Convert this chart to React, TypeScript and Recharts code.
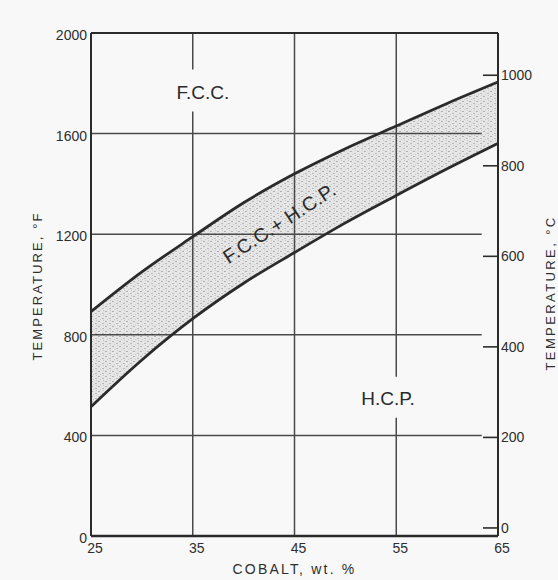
import {
  ComposedChart,
  Area,
  Line,
  XAxis,
  YAxis,
  ReferenceLine,
  ReferenceDot,
} from "recharts";

// cobalt content, wt. %
const COBALT = [25, 30, 35, 40, 45, 50, 55, 60, 65];
// upper boundary of the two-phase field (°F)
const FCC_BOUND = [892, 1050, 1190, 1325, 1440, 1540, 1630, 1720, 1805];
// lower boundary of the two-phase field (°F)
const HCP_BOUND = [514, 700, 864, 1005, 1127, 1245, 1354, 1460, 1561];

const CO_TICKS = [25, 35, 45, 55, 65];
const F_TICKS = [0, 400, 800, 1200, 1600, 2000];
const C_TICKS = [0, 200, 400, 600, 800, 1000];

const GRID_F = [400, 800, 1200, 1600];
const GRID_F_END = 63.4;
const GRID_CO: { co: number; gap?: [number, number] }[] = [
  { co: 35, gap: [1688, 1855] },
  { co: 45 },
  { co: 55, gap: [470, 633] },
];

const toC = (f: number) => ((f - 32) * 5) / 9;

const rows = COBALT.map((co, i) => ({
  co,
  lo: HCP_BOUND[i],
  hi: FCC_BOUND[i],
  loC: toC(HCP_BOUND[i]),
}));

const INK = "#2b2b2b";
const GRID = "#4a4a4a";
const FONT = "'Liberation Sans', Arial, sans-serif";

const CelsiusTick = (props: any) => {
  const { x, y, payload } = props;
  return (
    <g>
      <line x1={x - 18} x2={x - 3} y1={y} y2={y} stroke={INK} strokeWidth={1.6} />
      <text x={x} y={y} fill="#2e2e2e" fontSize={14} fontFamily={FONT} dominantBaseline="central">
        {payload.value}
      </text>
    </g>
  );
};

const FahrenheitTick = (props: any) => {
  const { x, y, payload } = props;
  return (
    <text
      x={x}
      y={y + 2}
      fill="#2e2e2e"
      fontSize={14}
      fontFamily={FONT}
      textAnchor="end"
      dominantBaseline="central"
    >
      {payload.value}
    </text>
  );
};

const CobaltTick = (props: any) => {
  const { x, y, payload } = props;
  return (
    <text x={x + 4} y={y} dy="0.75em" fill="#2e2e2e" fontSize={14} fontFamily={FONT} textAnchor="middle">
      {payload.value}
    </text>
  );
};

const phaseLabel = (text: string, angle = 0, size = 19, spacing = 0) => (p: any) =>
  (
    <text
      x={p.cx}
      y={p.cy}
      transform={angle ? `rotate(${angle} ${p.cx} ${p.cy})` : undefined}
      textAnchor="middle"
      dominantBaseline="central"
      fontSize={size}
      fontFamily={FONT}
      letterSpacing={spacing}
      fill="#2a2a2a"
    >
      {text}
    </text>
  );

export default function App() {
  return (
    <div style={{ position: "absolute", left: 0, top: 0, width: 558, height: 580, background: "#f8f8f8" }}>
      <ComposedChart
        width={558}
        height={580}
        data={rows}
        margin={{ top: 33, right: 0, bottom: 0, left: 0 }}
      >
        <defs>
          <pattern id="stipple" width="7" height="5" patternUnits="userSpaceOnUse">
            <rect width="7" height="5" fill="#e6e6e6" />
            <rect x="0" y="1" width="2" height="1" fill="#b0b0b0" />
            <rect x="4" y="3" width="2" height="1" fill="#bababa" />
            <rect x="5" y="0" width="1" height="1" fill="#c6c6c6" />
            <rect x="2" y="4" width="1" height="1" fill="#cacaca" />
          </pattern>
        </defs>
        <XAxis
          dataKey="co"
          type="number"
          domain={[25, 65]}
          ticks={CO_TICKS}
          height={44}
          tickLine={false}
          tickSize={0}
          tickMargin={6}
          axisLine={{ stroke: INK, strokeWidth: 2.5 }}
          tick={<CobaltTick />}
          label={{
            value: "COBALT, wt. %",
            position: "insideBottom",
            offset: 6,
            fill: "#2e2e2e",
            fontSize: 14,
            fontFamily: FONT,
            letterSpacing: 2.2,
          }}
        />
        <YAxis
          yAxisId="f"
          type="number"
          domain={[0, 2000]}
          ticks={F_TICKS}
          width={91}
          tickLine={false}
          tickSize={0}
          tickMargin={4}
          axisLine={{ stroke: INK, strokeWidth: 2 }}
          tick={<FahrenheitTick />}
          label={{
            content: () => (
              <text
                transform="translate(37 286) rotate(-90)"
                textAnchor="middle"
                dominantBaseline="central"
                fontSize={13}
                fontFamily={FONT}
                letterSpacing={2.1}
                fill="#2e2e2e"
              >
                TEMPERATURE, °F
              </text>
            ),
          }}
        />
        <YAxis
          yAxisId="c"
          orientation="right"
          type="number"
          domain={[toC(0), toC(2000)]}
          allowDataOverflow
          ticks={C_TICKS}
          width={60}
          tickLine={false}
          tickSize={0}
          tickMargin={3}
          axisLine={{ stroke: INK, strokeWidth: 2 }}
          tick={<CelsiusTick />}
          label={{
            content: () => (
              <text
                transform="translate(550 293) rotate(-90)"
                textAnchor="middle"
                dominantBaseline="central"
                fontSize={13}
                fontFamily={FONT}
                letterSpacing={2.4}
                fill="#2e2e2e"
              >
                TEMPERATURE, °C
              </text>
            ),
          }}
        />

        {GRID_F.map((f) => (
          <ReferenceLine
            key={`h${f}`}
            yAxisId="f"
            segment={[
              { x: 25, y: f },
              { x: GRID_F_END, y: f },
            ]}
            stroke={GRID}
            strokeWidth={1.5}
          />
        ))}
        {GRID_CO.flatMap(({ co, gap }) =>
          (gap ? [[0, gap[0]], [gap[1], 2000]] : [[0, 2000]]).map(([a, b]) => (
            <ReferenceLine
              key={`v${co}-${a}`}
              yAxisId="f"
              segment={[
                { x: co, y: a },
                { x: co, y: b },
              ]}
              stroke={GRID}
              strokeWidth={1.5}
            />
          ))
        )}
        <ReferenceLine yAxisId="f" y={2000} stroke={INK} strokeWidth={1.8} />

        <Area
          yAxisId="f"
          type="monotone"
          dataKey={(d: any) => [d.lo, d.hi]}
          stroke="none"
          fill="url(#stipple)"
          fillOpacity={1}
          isAnimationActive={false}
        />
        <Line
          yAxisId="f"
          type="monotone"
          dataKey="hi"
          stroke={INK}
          strokeWidth={2.8}
          dot={false}
          isAnimationActive={false}
        />
        {/* lower boundary plotted against the Celsius scale */}
        <Line
          yAxisId="c"
          type="monotone"
          dataKey="loC"
          stroke={INK}
          strokeWidth={2.8}
          dot={false}
          isAnimationActive={false}
        />

        <ReferenceDot yAxisId="f" x={36} y={1765} r={0} shape={phaseLabel("F.C.C.")} />
        <ReferenceDot yAxisId="f" x={54.2} y={545} r={0} shape={phaseLabel("H.C.P.")} />
        <ReferenceDot yAxisId="f" x={43.5} y={1245} r={0} shape={phaseLabel("F.C.C.+ H.C.P.", -33, 19.5, 0.3)} />
      </ComposedChart>
    </div>
  );
}
